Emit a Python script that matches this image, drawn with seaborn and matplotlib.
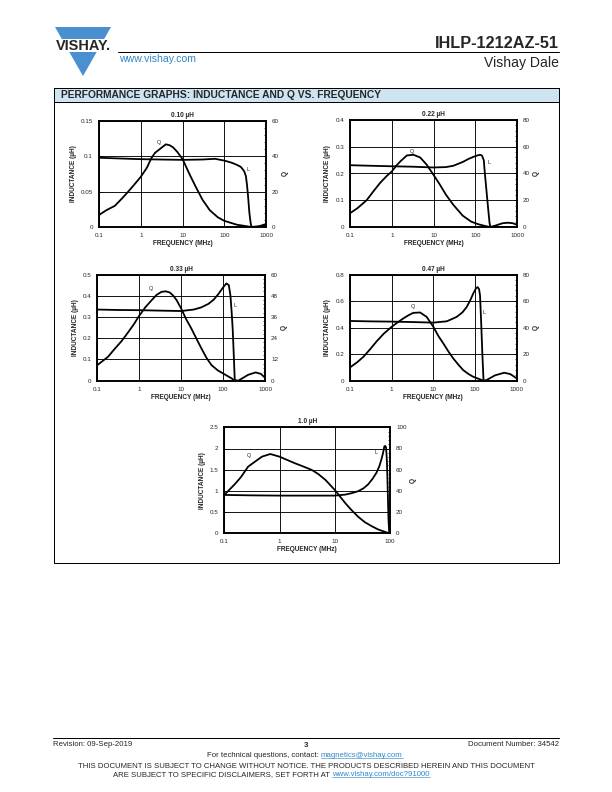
import numpy as np
import matplotlib.pyplot as plt
import seaborn as sns
from matplotlib.patches import Polygon, Rectangle
from matplotlib.ticker import AutoMinorLocator, NullLocator, LogLocator

###############################################################################
# Data (frequency in MHz)
###############################################################################

# 0.10 uH
f_L1 = [0.1, 0.3, 1, 3, 10, 30, 60, 100, 150, 200, 250, 300, 330, 350, 370, 400, 430, 450, 600, 800, 1000]
L1 = [0.098, 0.097, 0.096, 0.0955, 0.095, 0.0955, 0.0965, 0.094, 0.091, 0.088, 0.085, 0.079, 0.072, 0.06, 0.045, 0.02, 0.005, 0.0, 0.0, 0.001, 0.003]
f_Q1 = [0.1, 0.15, 0.24, 0.35, 0.5, 0.7, 1, 1.4, 1.8, 2.2, 3, 4, 5, 6, 7.5, 10, 15, 20, 30, 45, 70, 100, 200, 450, 700, 1000]
Q1 = [6.8, 9.5, 12, 16, 20, 24, 28.4, 33.5, 39, 42, 44.5, 46.8, 46.2, 45, 42.5, 38.5, 29.5, 23.5, 15.5, 9.5, 5.5, 3.5, 1.3, 0, 0.5, 1.7]

# 0.22 uH
f_L2 = [0.1, 0.3, 1, 3, 10, 20, 30, 50, 70, 90, 110, 130, 145, 160, 170, 185, 205, 220, 230, 300, 450, 600, 800, 1000]
L2 = [0.231, 0.229, 0.227, 0.2255, 0.2225, 0.224, 0.229, 0.243, 0.255, 0.262, 0.267, 0.270, 0.267, 0.25, 0.2, 0.139, 0.064, 0.015, 0, 0.005, 0.014, 0.016, 0.014, 0.008]
f_Q2 = [0.1, 0.15, 0.25, 0.35, 0.52, 0.75, 1, 1.3, 1.6, 2.3, 3.3, 4.8, 6.9, 10, 14, 20, 30, 50, 80, 120, 170, 225, 1000]
Q2 = [10.3, 14, 20, 26, 32.8, 38, 41.5, 46, 49, 53.5, 54, 52, 46.5, 39, 32, 24, 16.5, 8.5, 4, 2, 0.8, 0, 0]

# 0.33 uH
f_L3 = [0.1, 0.3, 1, 3, 10, 20, 30, 45, 60, 76, 100, 120, 137, 150, 160, 170, 180, 190, 230, 400, 600, 800, 1000]
L3 = [0.335, 0.333, 0.332, 0.330, 0.328, 0.335, 0.345, 0.362, 0.382, 0.406, 0.439, 0.458, 0.45, 0.40, 0.324, 0.24, 0.12, 0.003, 0, 0.028, 0.039, 0.032, 0.014]
f_Q3 = [0.1, 0.18, 0.26, 0.38, 0.55, 0.75, 1, 1.4, 1.98, 2.6, 3.4, 4.3, 5.4, 6.5, 7.8, 10, 13, 17.5, 24, 30.5, 40, 53, 75, 100, 160, 190]
Q3 = [8.8, 13.5, 18, 22.4, 27.5, 32, 36.7, 41.5, 45.5, 48.5, 50.2, 50.5, 49.8, 48, 45.5, 40.8, 35, 29.5, 23, 18.2, 13, 8.8, 5.8, 4.1, 1.3, 0]

# 0.47 uH
f_L4 = [0.1, 0.3, 1, 3, 10, 21, 36, 50, 63, 78, 90, 105, 115, 125, 132, 140, 150, 160, 190, 300, 500, 700, 1000]
L4 = [0.45, 0.447, 0.445, 0.442, 0.4375, 0.4475, 0.48, 0.515, 0.555, 0.61, 0.655, 0.695, 0.705, 0.69, 0.64, 0.45, 0.2, 0.0, 0.005, 0.04, 0.06, 0.05, 0.0175]
f_Q4 = [0.1, 0.15, 0.21, 0.3, 0.44, 0.65, 1, 1.4, 1.9, 2.6, 3.3, 4.8, 6.9, 10, 13, 17.4, 23, 30, 40, 52, 70, 90, 120, 160]
Q4 = [10, 14, 18, 23.5, 29.8, 35.5, 40.6, 44, 46.9, 49.5, 51.1, 51.4, 48.1, 40.6, 34, 28, 22, 16.8, 12, 8, 5, 3, 1.5, 0]

# 1.0 uH
f_L5 = [0.1, 0.3, 1, 3, 10, 15.6, 20, 26.4, 33, 40, 48, 57, 64, 70, 75, 79, 82, 85, 88, 91, 94, 97]
L5 = [0.905, 0.895, 0.889, 0.889, 0.889, 0.913, 0.945, 0.992, 1.06, 1.151, 1.28, 1.43, 1.58, 1.746, 1.9, 2.05, 2.06, 2.02, 1.7, 1.0, 0.317, 0]
f_Q5 = [0.1, 0.156, 0.2, 0.27, 0.36, 0.48, 0.68, 1, 1.4, 1.92, 2.7, 3.86, 5, 6.8, 10, 15.6, 20, 26.4, 35, 46, 60, 70, 85, 97]
Q5 = [36.2, 46.5, 53, 62.9, 67.6, 72.3, 74.8, 72.3, 69, 66, 63, 59.7, 56, 50.3, 40.9, 28.3, 22, 15.7, 10.5, 6.9, 3.8, 2.5, 1, 0]

titles = ["0.10 µH", "0.22 µH", "0.33 µH", "0.47 µH", "1.0 µH"]
L_ticks = [[0, 0.05, 0.1, 0.15], [0, 0.1, 0.2, 0.3, 0.4], [0, 0.1, 0.2, 0.3, 0.4, 0.5],
           [0, 0.2, 0.4, 0.6, 0.8], [0, 0.5, 1, 1.5, 2, 2.5]]
Q_ticks = [[0, 20, 40, 60], [0, 20, 40, 60, 80], [0, 12, 24, 36, 48, 60],
           [0, 20, 40, 60, 80], [0, 20, 40, 60, 80, 100]]
x_ticks = [[0.1, 1, 10, 100, 1000]] * 4 + [[0.1, 1, 10, 100]]
L_label_pos = [(363, 0.0816), (217, 0.241), (191, 0.356), (164, 0.5175), (57, 1.905)]
Q_label_pos = [(2.7, 48), (3.05, 56.5), (1.87, 52), (3.3, 55.6), (0.284, 73.3)]

###############################################################################
# Page
###############################################################################

sns.set_style("white")
plt.rcParams['font.family'] = ['Liberation Sans', 'DejaVu Sans']

W, H = 612, 792
fig = plt.figure(figsize=(W / 72, H / 72), dpi=72)
page = fig.add_axes([0, 0, 1, 1])
page.set_xlim(0, W)
page.set_ylim(H, 0)
page.axis('off')

link = '#2f86c8'

# logo
page.add_patch(Polygon([(55, 27), (111, 27), (83, 76)], closed=True, color='#4a8fd0', lw=0))
page.add_patch(Rectangle((50, 39), 66, 13, color='white', lw=0))
page.text(83, 46, "VISHAY.", fontsize=14.5, fontweight='bold', ha='center', va='center')

page.plot([118, 559], [52, 52], color='black', lw=1)
page.text(559, 48, "IHLP-1212AZ-51", fontsize=16.3, fontweight='bold', ha='right', va='baseline')
page.text(559, 67, "Vishay Dale", fontsize=14, ha='right', va='baseline')
page.text(119, 62, "www.vishay.com", fontsize=10.5, color=link, ha='left', va='baseline')

# section frame
page.add_patch(Rectangle((53.5, 87.5), 505.5, 14, facecolor='#cfe4f1', edgecolor='black', lw=1))
page.add_patch(Rectangle((53.5, 87.5), 505.5, 475, facecolor='none', edgecolor='black', lw=1))
page.text(61, 95, "PERFORMANCE GRAPHS: INDUCTANCE AND Q VS. FREQUENCY", fontsize=10.3,
          fontweight='bold', ha='left', va='center')

# footer
fs = 7.7
page.plot([53, 559], [738, 738], color='black', lw=1)
page.text(53, 746, "Revision: 09-Sep-2019", fontsize=fs, ha='left', va='baseline')
page.text(306, 747, "3", fontsize=fs, fontweight='bold', ha='center', va='baseline')
page.text(559, 746, "Document Number: 34542", fontsize=fs, ha='right', va='baseline')
page.text(319, 757, "For technical questions, contact:", fontsize=fs, ha='right', va='baseline')
t1 = page.text(321, 757, "magnetics@vishay.com", fontsize=fs, color=link, ha='left', va='baseline')
page.text(306, 768, "THIS DOCUMENT IS SUBJECT TO CHANGE WITHOUT NOTICE. THE PRODUCTS DESCRIBED HEREIN AND THIS DOCUMENT",
          fontsize=fs, ha='center', va='baseline')
page.text(330, 776, "ARE SUBJECT TO SPECIFIC DISCLAIMERS, SET FORTH AT", fontsize=fs, ha='right', va='baseline')
t2 = page.text(332, 776, "www.vishay.com/doc?91000", fontsize=fs, color=link, ha='left', va='baseline')

renderer = fig.canvas.get_renderer()
for t, yb in [(t1, 757), (t2, 776)]:
    bb = t.get_window_extent(renderer)
    page.plot([bb.x0, bb.x1], [yb + 1.3, yb + 1.3], color=link, lw=0.6)

###############################################################################
# Charts
###############################################################################

boxes = [(99, 121, 266, 227), (350, 120, 517, 227), (97.3, 274.5, 265, 380.7),
         (350, 274.5, 516.7, 380.7), (224.3, 427.3, 390, 533.3)]
series = [(f_L1, L1, f_Q1, Q1), (f_L2, L2, f_Q2, Q2), (f_L3, L3, f_Q3, Q3),
          (f_L4, L4, f_Q4, Q4), (f_L5, L5, f_Q5, Q5)]

for i, (l, t, r, b) in enumerate(boxes):
    fL, L, fQ, Q = series[i]
    ax = fig.add_axes([l / W, 1 - b / H, (r - l) / W, (b - t) / H])
    ax2 = ax.twinx()
    sns.lineplot(x=fL, y=L, ax=ax, color='black', linewidth=1.8)
    sns.lineplot(x=fQ, y=Q, ax=ax2, color='black', linewidth=1.8)

    ax.set_xscale('log')
    ax.set_xlim(x_ticks[i][0], x_ticks[i][-1])
    ax.set_xticks(x_ticks[i])
    ax.set_xticklabels(['{:g}'.format(v) for v in x_ticks[i]])
    ax.xaxis.set_minor_locator(LogLocator(base=10, subs=np.arange(2, 10) * 1.0, numticks=20))

    ax.set_ylim(L_ticks[i][0], L_ticks[i][-1])
    ax.set_yticks(L_ticks[i])
    ax.set_yticklabels(['{:g}'.format(v) for v in L_ticks[i]])
    ax.yaxis.set_minor_locator(NullLocator())
    ax2.set_ylim(Q_ticks[i][0], Q_ticks[i][-1])
    ax2.set_yticks(Q_ticks[i])
    ax2.set_yticklabels(['{:g}'.format(v) for v in Q_ticks[i]])
    ax2.yaxis.set_minor_locator(AutoMinorLocator(5))

    ax.grid(True, which='major', color='black', linewidth=0.9)
    ax2.grid(False)
    for a in (ax, ax2):
        a.tick_params(which='both', direction='in', labelsize=6.2, pad=6, color='black', width=0.7)
        a.tick_params(which='major', length=3)
        a.tick_params(which='minor', length=2)
        for s in a.spines.values():
            s.set_linewidth(1.6)
            s.set_color('black')

    ax.set_title(titles[i], fontsize=6.5, fontweight='bold', pad=4)
    ax.set_xlabel("FREQUENCY (MHz)", fontsize=6.5, fontweight='bold', labelpad=2)
    ax.set_ylabel("INDUCTANCE (µH)", fontsize=6.5, fontweight='bold', labelpad=4)
    ax2.set_ylabel("Q", fontsize=6.5, fontweight='bold', labelpad=3)

    ax.text(*L_label_pos[i], "L", fontsize=5.5, ha='center', va='center')
    ax2.text(*Q_label_pos[i], "Q", fontsize=5.5, ha='center', va='center')

fig.savefig("out.png", dpi=72)
